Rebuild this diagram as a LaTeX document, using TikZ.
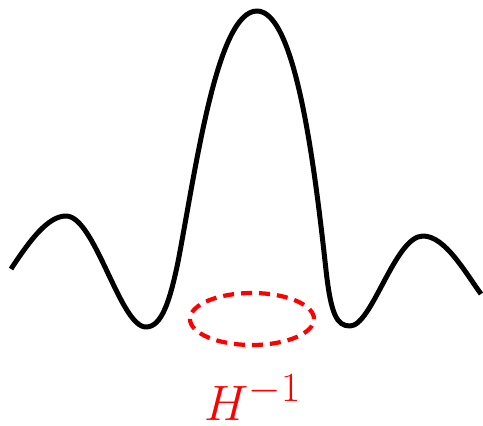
\documentclass[tikz,border=0pt]{standalone}
\usetikzlibrary{shapes.geometric}
\begin{document}
\begin{tikzpicture}[x=1pt,y=-1pt,
  curvestyle/.style={line width=5pt,line cap=butt,line join=round},
  holestyle/.style={red,line width=4.2pt,dash pattern=on 11pt off 7pt}]
\useasboundingbox (0,0) rectangle (483,426);
\draw[curvestyle] (11,269) .. controls (30,240) and (48,216) .. (66,216)
  .. controls (95,216) and (120,327) .. (146,327)
  .. controls (162,327) and (170,300) .. (178,262)
  .. controls (196,168) and (217,11) .. (257,11)
  .. controls (296,11) and (315,170) .. (326,270)
  .. controls (331,315) and (337,326) .. (350,326)
  .. controls (372,326) and (395,236) .. (423,236)
  .. controls (445,236) and (465,272) .. (481,294);
\node[draw,ellipse,holestyle,minimum width=124pt,minimum height=52pt,inner sep=0pt] (hole) at (252,319) {};
\node[red,font=\Huge,scale=2,anchor=base,inner sep=0pt] (label) at (253,420) {$H^{-1}$};
\end{tikzpicture}
\end{document}
